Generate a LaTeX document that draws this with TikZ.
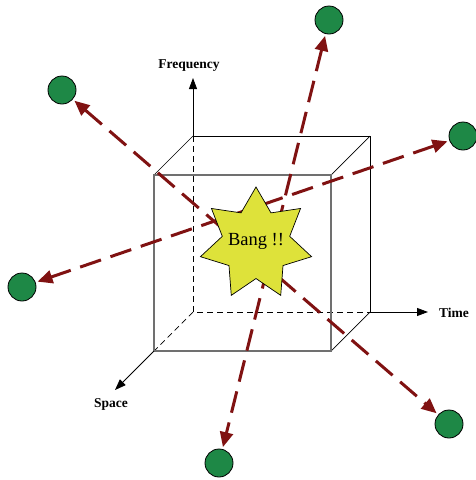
\documentclass[tikz,border=0pt]{standalone}
\usepackage{fontspec}
\setmainfont{Liberation Serif}
\usetikzlibrary{shapes.geometric,arrows.meta}
\definecolor{dred}{RGB}{128,18,18}
\definecolor{ball}{RGB}{30,136,70}
\definecolor{bangy}{RGB}{222,226,58}
\definecolor{frontgray}{RGB}{112,112,112}
\tikzset{
  edge/.style={draw=black, line width=0.7pt},
  hidden/.style={draw=black, line width=0.7pt, dash pattern=on 6pt off 4pt},
  frontface/.style={draw=frontgray, line width=1.4pt},
  axis/.style={draw=black, line width=0.8pt, -{Triangle[length=11pt,width=8pt]}},
  axlabel/.style={font=\fontsize{13.5}{15}\selectfont\bfseries, inner sep=0pt},
  ballnode/.style={circle, draw=black, line width=0.8pt, fill=ball, minimum size=28pt, inner sep=0pt},
  blast/.style={draw=dred, line width=3pt, dash pattern=on 22pt off 10pt,
    {Triangle[length=15pt,width=13pt]}-{Triangle[length=15pt,width=13pt]}, shorten <=2pt, shorten >=2pt},
  bangstar/.style={star, star points=7, star point ratio=1.65, minimum size=114pt, inner sep=0pt,
    draw=black, line width=0.7pt, fill=bangy},
  bangtext/.style={font=\fontsize{18.5}{20}\selectfont, inner sep=0pt}
}
\begin{document}
\begin{tikzpicture}[x=1pt,y=-1pt]
\useasboundingbox (0,0) rectangle (476,480);
% cube corners
\coordinate (O) at (193,312);
\coordinate (B1) at (193,136);
\coordinate (B2) at (370,136);
\coordinate (B3) at (370,312);
\coordinate (F1) at (154,175);
\coordinate (F2) at (331,175);
\coordinate (F3) at (331,351);
\coordinate (F4) at (154,351);
% axis ends
\coordinate (ftip) at (193,78);
\coordinate (ttip) at (428,312);
\coordinate (stip) at (115,390);
% back and hidden edges
\draw[edge] (B1) -- (B2) -- (B3);
\draw[hidden] (B1) -- (O) -- (B3);
\draw[hidden] (O) -- (F4);
\draw[edge] (F1) -- (B1);
\draw[edge] (F2) -- (B2);
\draw[edge] (F3) -- (B3);
\draw[frontface] (F1) rectangle (F3);
% axes
\draw[axis] (B1) -- (ftip);
\draw[axis] (B3) -- (ttip);
\draw[axis] (F4) -- (stip);
\node[axlabel] (freq) at (189,66) {Frequency};
\node[axlabel] (time) at (454,313) {Time};
\node[axlabel] (space) at (111,404) {Space};
% balls
\node[ballnode] (tl) at (62,90) {};
\node[ballnode] (br) at (449,424) {};
\node[ballnode] (tp) at (329,20) {};
\node[ballnode] (bt) at (219,463) {};
\node[ballnode] (rt) at (463,136) {};
\node[ballnode] (lf) at (22,287) {};
% blasts
\draw[blast] (tl) -- (br);
\draw[blast] (tp) -- (bt);
\draw[blast] (rt) -- (lf);
% star
\node[bangstar] (bang) at (256,244) {};
\node[bangtext] (bangtxt) at (256,241) {Bang !!};
\end{tikzpicture}
\end{document}
